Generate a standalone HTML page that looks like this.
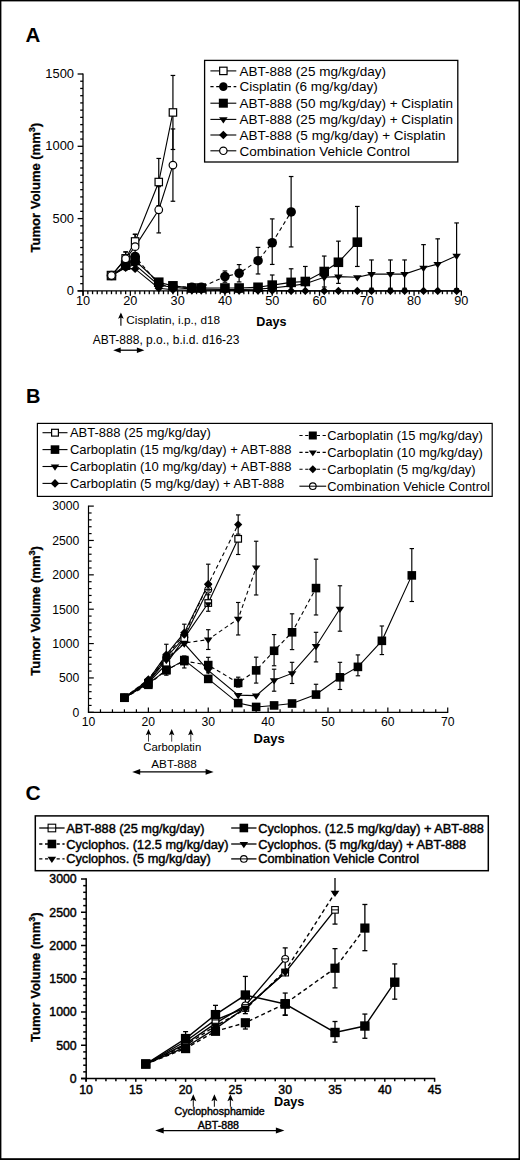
<!DOCTYPE html><html><head><meta charset="utf-8"><title>Figure</title>
<style>html,body{margin:0;padding:0;background:#fff;}svg{display:block;}text{font-family:"Liberation Sans", sans-serif;fill:#000;}</style></head><body>
<svg width="520" height="1160" viewBox="0 0 520 1160">
<rect x="0" y="0" width="520" height="1160" fill="#fff"/>
<rect x="0" y="0" width="1.4" height="1160" fill="#000"/>
<rect x="0" y="0" width="520" height="1.4" fill="#000"/>
<rect x="518.5" y="0" width="1.5" height="1160" fill="#000"/>
<rect x="0" y="1158.2" width="520" height="1.8" fill="#000"/>
<text x="25.6" y="42" font-size="20.5" font-weight="bold" text-anchor="start" >A</text>
<rect x="204.6" y="60.4" width="253.2" height="101.6" fill="#fff" stroke="#000" stroke-width="1.3"/>
<line x1="210.4" y1="70.9" x2="236.3" y2="70.9" stroke="#000" stroke-width="1.1"/>
<rect x="219.65" y="67.2" width="7.4" height="7.4" fill="#fff" stroke="#000" stroke-width="1.2"/>
<text x="239.6" y="75.7" font-size="13.5" font-weight="normal" text-anchor="start" >ABT-888 (25 mg/kg/day)</text>
<line x1="210.4" y1="86.6" x2="236.3" y2="86.6" stroke="#000" stroke-width="1.1" stroke-dasharray="3.2 2.6"/>
<circle cx="223.35" cy="86.6" r="4.3" fill="#000"/>
<text x="239.6" y="91.4" font-size="13.5" font-weight="normal" text-anchor="start" >Cisplatin (6 mg/kg/day)</text>
<line x1="210.4" y1="103.2" x2="236.3" y2="103.2" stroke="#000" stroke-width="1.1"/>
<rect x="218.85" y="98.7" width="9" height="9" fill="#000"/>
<text x="239.6" y="108" font-size="13.5" font-weight="normal" text-anchor="start" >ABT-888 (50 mg/kg/day) + Cisplatin</text>
<line x1="210.4" y1="119.4" x2="236.3" y2="119.4" stroke="#000" stroke-width="1.1"/>
<path d="M219.05 117.34L227.65 117.34L223.35 123.53Z" fill="#000"/>
<text x="239.6" y="124.2" font-size="13.5" font-weight="normal" text-anchor="start" >ABT-888 (25 mg/kg/day) + Cisplatin</text>
<line x1="210.4" y1="135" x2="236.3" y2="135" stroke="#000" stroke-width="1.1"/>
<path d="M223.35 130.7L227.65 135L223.35 139.3L219.05 135Z" fill="#000"/>
<text x="239.6" y="139.8" font-size="13.5" font-weight="normal" text-anchor="start" >ABT-888 (5 mg/kg/day) + Cisplatin</text>
<line x1="210.4" y1="150.8" x2="236.3" y2="150.8" stroke="#000" stroke-width="1.1"/>
<circle cx="223.35" cy="150.8" r="3.7" fill="#fff" stroke="#000" stroke-width="1.2"/>
<text x="239.6" y="155.6" font-size="13.5" font-weight="normal" text-anchor="start" >Combination Vehicle Control</text>
<g stroke="#000" stroke-width="1.3">
<line x1="83" y1="73.4" x2="83" y2="295.8"/>
<line x1="77.6" y1="290.9" x2="461.6" y2="290.9"/>
<line x1="77.6" y1="290.9" x2="83" y2="290.9"/>
<line x1="80.2" y1="283.67" x2="83" y2="283.67"/>
<line x1="80.2" y1="276.44" x2="83" y2="276.44"/>
<line x1="80.2" y1="269.21" x2="83" y2="269.21"/>
<line x1="80.2" y1="261.98" x2="83" y2="261.98"/>
<line x1="80.2" y1="254.75" x2="83" y2="254.75"/>
<line x1="80.2" y1="247.52" x2="83" y2="247.52"/>
<line x1="80.2" y1="240.29" x2="83" y2="240.29"/>
<line x1="80.2" y1="233.06" x2="83" y2="233.06"/>
<line x1="80.2" y1="225.83" x2="83" y2="225.83"/>
<line x1="77.6" y1="218.6" x2="83" y2="218.6"/>
<line x1="80.2" y1="211.37" x2="83" y2="211.37"/>
<line x1="80.2" y1="204.14" x2="83" y2="204.14"/>
<line x1="80.2" y1="196.91" x2="83" y2="196.91"/>
<line x1="80.2" y1="189.68" x2="83" y2="189.68"/>
<line x1="80.2" y1="182.45" x2="83" y2="182.45"/>
<line x1="80.2" y1="175.22" x2="83" y2="175.22"/>
<line x1="80.2" y1="167.99" x2="83" y2="167.99"/>
<line x1="80.2" y1="160.76" x2="83" y2="160.76"/>
<line x1="80.2" y1="153.53" x2="83" y2="153.53"/>
<line x1="77.6" y1="146.3" x2="83" y2="146.3"/>
<line x1="80.2" y1="139.07" x2="83" y2="139.07"/>
<line x1="80.2" y1="131.84" x2="83" y2="131.84"/>
<line x1="80.2" y1="124.61" x2="83" y2="124.61"/>
<line x1="80.2" y1="117.38" x2="83" y2="117.38"/>
<line x1="80.2" y1="110.15" x2="83" y2="110.15"/>
<line x1="80.2" y1="102.92" x2="83" y2="102.92"/>
<line x1="80.2" y1="95.69" x2="83" y2="95.69"/>
<line x1="80.2" y1="88.46" x2="83" y2="88.46"/>
<line x1="80.2" y1="81.23" x2="83" y2="81.23"/>
<line x1="77.6" y1="74" x2="83" y2="74"/>
<line x1="83.1" y1="290.9" x2="83.1" y2="295.8"/>
<line x1="87.83" y1="290.9" x2="87.83" y2="294.2"/>
<line x1="92.56" y1="290.9" x2="92.56" y2="294.2"/>
<line x1="97.28" y1="290.9" x2="97.28" y2="294.2"/>
<line x1="102.01" y1="290.9" x2="102.01" y2="294.2"/>
<line x1="106.74" y1="290.9" x2="106.74" y2="294.2"/>
<line x1="111.47" y1="290.9" x2="111.47" y2="294.2"/>
<line x1="116.2" y1="290.9" x2="116.2" y2="294.2"/>
<line x1="120.92" y1="290.9" x2="120.92" y2="294.2"/>
<line x1="125.65" y1="290.9" x2="125.65" y2="294.2"/>
<line x1="130.38" y1="290.9" x2="130.38" y2="295.8"/>
<line x1="135.11" y1="290.9" x2="135.11" y2="294.2"/>
<line x1="139.84" y1="290.9" x2="139.84" y2="294.2"/>
<line x1="144.56" y1="290.9" x2="144.56" y2="294.2"/>
<line x1="149.29" y1="290.9" x2="149.29" y2="294.2"/>
<line x1="154.02" y1="290.9" x2="154.02" y2="294.2"/>
<line x1="158.75" y1="290.9" x2="158.75" y2="294.2"/>
<line x1="163.48" y1="290.9" x2="163.48" y2="294.2"/>
<line x1="168.2" y1="290.9" x2="168.2" y2="294.2"/>
<line x1="172.93" y1="290.9" x2="172.93" y2="294.2"/>
<line x1="177.66" y1="290.9" x2="177.66" y2="295.8"/>
<line x1="182.39" y1="290.9" x2="182.39" y2="294.2"/>
<line x1="187.12" y1="290.9" x2="187.12" y2="294.2"/>
<line x1="191.84" y1="290.9" x2="191.84" y2="294.2"/>
<line x1="196.57" y1="290.9" x2="196.57" y2="294.2"/>
<line x1="201.3" y1="290.9" x2="201.3" y2="294.2"/>
<line x1="206.03" y1="290.9" x2="206.03" y2="294.2"/>
<line x1="210.76" y1="290.9" x2="210.76" y2="294.2"/>
<line x1="215.48" y1="290.9" x2="215.48" y2="294.2"/>
<line x1="220.21" y1="290.9" x2="220.21" y2="294.2"/>
<line x1="224.94" y1="290.9" x2="224.94" y2="295.8"/>
<line x1="229.67" y1="290.9" x2="229.67" y2="294.2"/>
<line x1="234.4" y1="290.9" x2="234.4" y2="294.2"/>
<line x1="239.12" y1="290.9" x2="239.12" y2="294.2"/>
<line x1="243.85" y1="290.9" x2="243.85" y2="294.2"/>
<line x1="248.58" y1="290.9" x2="248.58" y2="294.2"/>
<line x1="253.31" y1="290.9" x2="253.31" y2="294.2"/>
<line x1="258.04" y1="290.9" x2="258.04" y2="294.2"/>
<line x1="262.76" y1="290.9" x2="262.76" y2="294.2"/>
<line x1="267.49" y1="290.9" x2="267.49" y2="294.2"/>
<line x1="272.22" y1="290.9" x2="272.22" y2="295.8"/>
<line x1="276.95" y1="290.9" x2="276.95" y2="294.2"/>
<line x1="281.68" y1="290.9" x2="281.68" y2="294.2"/>
<line x1="286.4" y1="290.9" x2="286.4" y2="294.2"/>
<line x1="291.13" y1="290.9" x2="291.13" y2="294.2"/>
<line x1="295.86" y1="290.9" x2="295.86" y2="294.2"/>
<line x1="300.59" y1="290.9" x2="300.59" y2="294.2"/>
<line x1="305.32" y1="290.9" x2="305.32" y2="294.2"/>
<line x1="310.04" y1="290.9" x2="310.04" y2="294.2"/>
<line x1="314.77" y1="290.9" x2="314.77" y2="294.2"/>
<line x1="319.5" y1="290.9" x2="319.5" y2="295.8"/>
<line x1="324.23" y1="290.9" x2="324.23" y2="294.2"/>
<line x1="328.96" y1="290.9" x2="328.96" y2="294.2"/>
<line x1="333.68" y1="290.9" x2="333.68" y2="294.2"/>
<line x1="338.41" y1="290.9" x2="338.41" y2="294.2"/>
<line x1="343.14" y1="290.9" x2="343.14" y2="294.2"/>
<line x1="347.87" y1="290.9" x2="347.87" y2="294.2"/>
<line x1="352.6" y1="290.9" x2="352.6" y2="294.2"/>
<line x1="357.32" y1="290.9" x2="357.32" y2="294.2"/>
<line x1="362.05" y1="290.9" x2="362.05" y2="294.2"/>
<line x1="366.78" y1="290.9" x2="366.78" y2="295.8"/>
<line x1="371.51" y1="290.9" x2="371.51" y2="294.2"/>
<line x1="376.24" y1="290.9" x2="376.24" y2="294.2"/>
<line x1="380.96" y1="290.9" x2="380.96" y2="294.2"/>
<line x1="385.69" y1="290.9" x2="385.69" y2="294.2"/>
<line x1="390.42" y1="290.9" x2="390.42" y2="294.2"/>
<line x1="395.15" y1="290.9" x2="395.15" y2="294.2"/>
<line x1="399.88" y1="290.9" x2="399.88" y2="294.2"/>
<line x1="404.6" y1="290.9" x2="404.6" y2="294.2"/>
<line x1="409.33" y1="290.9" x2="409.33" y2="294.2"/>
<line x1="414.06" y1="290.9" x2="414.06" y2="295.8"/>
<line x1="418.79" y1="290.9" x2="418.79" y2="294.2"/>
<line x1="423.52" y1="290.9" x2="423.52" y2="294.2"/>
<line x1="428.24" y1="290.9" x2="428.24" y2="294.2"/>
<line x1="432.97" y1="290.9" x2="432.97" y2="294.2"/>
<line x1="437.7" y1="290.9" x2="437.7" y2="294.2"/>
<line x1="442.43" y1="290.9" x2="442.43" y2="294.2"/>
<line x1="447.16" y1="290.9" x2="447.16" y2="294.2"/>
<line x1="451.88" y1="290.9" x2="451.88" y2="294.2"/>
<line x1="456.61" y1="290.9" x2="456.61" y2="294.2"/>
<line x1="461.34" y1="290.9" x2="461.34" y2="295.8"/>
</g>
<text x="74" y="294.8" font-size="12.9" font-weight="normal" text-anchor="end" >0</text>
<text x="74" y="222.5" font-size="12.9" font-weight="normal" text-anchor="end" >500</text>
<text x="74" y="150.2" font-size="12.9" font-weight="normal" text-anchor="end" >1000</text>
<text x="74" y="77.9" font-size="12.9" font-weight="normal" text-anchor="end" >1500</text>
<text x="83.1" y="305.1" font-size="12.7" font-weight="normal" text-anchor="middle" >10</text>
<text x="130.38" y="305.1" font-size="12.7" font-weight="normal" text-anchor="middle" >20</text>
<text x="177.66" y="305.1" font-size="12.7" font-weight="normal" text-anchor="middle" >30</text>
<text x="224.94" y="305.1" font-size="12.7" font-weight="normal" text-anchor="middle" >40</text>
<text x="272.22" y="305.1" font-size="12.7" font-weight="normal" text-anchor="middle" >50</text>
<text x="319.5" y="305.1" font-size="12.7" font-weight="normal" text-anchor="middle" >60</text>
<text x="366.78" y="305.1" font-size="12.7" font-weight="normal" text-anchor="middle" >70</text>
<text x="414.06" y="305.1" font-size="12.7" font-weight="normal" text-anchor="middle" >80</text>
<text x="461.34" y="305.1" font-size="12.7" font-weight="normal" text-anchor="middle" >90</text>
<text x="256.3" y="326.3" font-size="12.6" font-weight="bold" text-anchor="start" >Days</text>
<text transform="translate(39.6 252.4) rotate(-90)" font-size="13" font-weight="bold" stroke="#000" stroke-width="0.3" >Tumor Volume (mm<tspan font-size="9.1" dy="-4.94">3</tspan><tspan dy="4.94">)</tspan></text>
<line x1="120.9" y1="314.6" x2="120.9" y2="325.8" stroke="#000" stroke-width="1.1"/>
<path d="M120.9 312.6L123.7 318.8L120.9 317.56L118.1 318.8Z" fill="#000"/>
<text x="126.3" y="323.7" font-size="11.8" font-weight="normal" text-anchor="start" >Cisplatin, i.p., d18</text>
<text x="92.7" y="343.5" font-size="12" font-weight="normal" text-anchor="start" >ABT-888, p.o., b.i.d. d16-23</text>
<line x1="116.2" y1="350.2" x2="141.4" y2="350.2" stroke="#000" stroke-width="1.3"/>
<path d="M113.2 350.2L120.7 347.4L120.7 353Z" fill="#000"/>
<path d="M144.4 350.2L136.9 347.4L136.9 353Z" fill="#000"/>
<path d="M111.47 275.57L125.65 267.76L135.11 268.92L158.75 288.3L172.93 289.74L191.84 290.18L201.3 290.18L224.94 290.47L239.12 290.47L258.04 290.47L272.22 290.61L291.13 290.9L305.32 290.9L324.23 290.9L338.41 290.9L357.32 290.9L371.51 290.9L390.42 290.9L404.6 290.9L423.52 290.9L437.7 290.9L456.61 290.9" fill="none" stroke="#000" stroke-width="1.1"/>
<path d="M111.47 275.57L125.65 267.04L135.11 264.87L158.75 285.12L172.93 287.28L191.84 289.16L201.3 289.16L224.94 289.45L239.12 289.45L258.04 289.16L272.22 288.01L291.13 285.84L305.32 283.67L324.23 277.31L338.41 276.58L357.32 277.31L371.51 274.13L390.42 274.13L404.6 274.13L423.52 267.76L437.7 264.15L456.61 255.76" fill="none" stroke="#000" stroke-width="1.1"/>
<path d="M111.47 275.57L125.65 265.16L135.11 260.53L158.75 282.22L172.93 285.84L191.84 288.01L201.3 288.01L224.94 288.01L239.12 288.01L258.04 287.28L272.22 285.12L291.13 282.37L305.32 281.5L324.23 271.52L338.41 262.27L357.32 242.17" fill="none" stroke="#000" stroke-width="1.1"/>
<path d="M111.47 275.57L125.65 266.03L135.11 256.49L158.75 284.39L172.93 286.56L191.84 287.28L201.3 287.28L224.94 276.58L239.12 273.26L258.04 260.68L272.22 242.75L291.13 211.95" fill="none" stroke="#000" stroke-width="1.1" stroke-dasharray="4 3"/>
<path d="M111.47 275.57L125.65 258.36L135.11 241.45L158.75 182.02L172.93 112.46" fill="none" stroke="#000" stroke-width="1.1"/>
<path d="M111.47 275.57L125.65 258.8L135.11 246.65L158.75 209.78L172.93 165.1" fill="none" stroke="#000" stroke-width="1.1"/>
<line x1="371.51" y1="259.96" x2="371.51" y2="288.3" stroke="#000" stroke-width="1.2"/>
<line x1="369.21" y1="259.96" x2="373.81" y2="259.96" stroke="#000" stroke-width="1.2"/>
<line x1="369.21" y1="288.3" x2="373.81" y2="288.3" stroke="#000" stroke-width="1.2"/>
<line x1="390.42" y1="259.96" x2="390.42" y2="288.3" stroke="#000" stroke-width="1.2"/>
<line x1="388.12" y1="259.96" x2="392.72" y2="259.96" stroke="#000" stroke-width="1.2"/>
<line x1="388.12" y1="288.3" x2="392.72" y2="288.3" stroke="#000" stroke-width="1.2"/>
<line x1="404.6" y1="259.96" x2="404.6" y2="288.3" stroke="#000" stroke-width="1.2"/>
<line x1="402.3" y1="259.96" x2="406.9" y2="259.96" stroke="#000" stroke-width="1.2"/>
<line x1="402.3" y1="288.3" x2="406.9" y2="288.3" stroke="#000" stroke-width="1.2"/>
<line x1="423.52" y1="244.63" x2="423.52" y2="290.9" stroke="#000" stroke-width="1.2"/>
<line x1="421.22" y1="244.63" x2="425.82" y2="244.63" stroke="#000" stroke-width="1.2"/>
<line x1="437.7" y1="238.84" x2="437.7" y2="289.45" stroke="#000" stroke-width="1.2"/>
<line x1="435.4" y1="238.84" x2="440" y2="238.84" stroke="#000" stroke-width="1.2"/>
<line x1="435.4" y1="289.45" x2="440" y2="289.45" stroke="#000" stroke-width="1.2"/>
<line x1="456.61" y1="222.94" x2="456.61" y2="288.59" stroke="#000" stroke-width="1.2"/>
<line x1="454.31" y1="222.94" x2="458.91" y2="222.94" stroke="#000" stroke-width="1.2"/>
<line x1="454.31" y1="288.59" x2="458.91" y2="288.59" stroke="#000" stroke-width="1.2"/>
<line x1="272.22" y1="274.99" x2="272.22" y2="290.9" stroke="#000" stroke-width="1.2"/>
<line x1="269.92" y1="274.99" x2="274.52" y2="274.99" stroke="#000" stroke-width="1.2"/>
<line x1="291.13" y1="268.78" x2="291.13" y2="290.9" stroke="#000" stroke-width="1.2"/>
<line x1="288.83" y1="268.78" x2="293.43" y2="268.78" stroke="#000" stroke-width="1.2"/>
<line x1="305.32" y1="266.46" x2="305.32" y2="290.9" stroke="#000" stroke-width="1.2"/>
<line x1="303.02" y1="266.46" x2="307.62" y2="266.46" stroke="#000" stroke-width="1.2"/>
<line x1="324.23" y1="256.05" x2="324.23" y2="287" stroke="#000" stroke-width="1.2"/>
<line x1="321.93" y1="256.05" x2="326.53" y2="256.05" stroke="#000" stroke-width="1.2"/>
<line x1="321.93" y1="287" x2="326.53" y2="287" stroke="#000" stroke-width="1.2"/>
<line x1="338.41" y1="241.16" x2="338.41" y2="283.38" stroke="#000" stroke-width="1.2"/>
<line x1="336.11" y1="241.16" x2="340.71" y2="241.16" stroke="#000" stroke-width="1.2"/>
<line x1="336.11" y1="283.38" x2="340.71" y2="283.38" stroke="#000" stroke-width="1.2"/>
<line x1="357.32" y1="206.45" x2="357.32" y2="266.46" stroke="#000" stroke-width="1.2"/>
<line x1="355.02" y1="206.45" x2="359.62" y2="206.45" stroke="#000" stroke-width="1.2"/>
<line x1="355.02" y1="266.46" x2="359.62" y2="266.46" stroke="#000" stroke-width="1.2"/>
<line x1="224.94" y1="270.95" x2="224.94" y2="282.22" stroke="#000" stroke-width="1.2"/>
<line x1="222.64" y1="270.95" x2="227.24" y2="270.95" stroke="#000" stroke-width="1.2"/>
<line x1="222.64" y1="282.22" x2="227.24" y2="282.22" stroke="#000" stroke-width="1.2"/>
<line x1="239.12" y1="264.58" x2="239.12" y2="281.93" stroke="#000" stroke-width="1.2"/>
<line x1="236.82" y1="264.58" x2="241.42" y2="264.58" stroke="#000" stroke-width="1.2"/>
<line x1="236.82" y1="281.93" x2="241.42" y2="281.93" stroke="#000" stroke-width="1.2"/>
<line x1="258.04" y1="247.38" x2="258.04" y2="273.98" stroke="#000" stroke-width="1.2"/>
<line x1="255.74" y1="247.38" x2="260.34" y2="247.38" stroke="#000" stroke-width="1.2"/>
<line x1="255.74" y1="273.98" x2="260.34" y2="273.98" stroke="#000" stroke-width="1.2"/>
<line x1="272.22" y1="218.89" x2="272.22" y2="264.44" stroke="#000" stroke-width="1.2"/>
<line x1="269.92" y1="218.89" x2="274.52" y2="218.89" stroke="#000" stroke-width="1.2"/>
<line x1="269.92" y1="264.44" x2="274.52" y2="264.44" stroke="#000" stroke-width="1.2"/>
<line x1="291.13" y1="176.52" x2="291.13" y2="246.94" stroke="#000" stroke-width="1.2"/>
<line x1="288.83" y1="176.52" x2="293.43" y2="176.52" stroke="#000" stroke-width="1.2"/>
<line x1="288.83" y1="246.94" x2="293.43" y2="246.94" stroke="#000" stroke-width="1.2"/>
<line x1="125.65" y1="251.86" x2="125.65" y2="264.87" stroke="#000" stroke-width="1.2"/>
<line x1="123.35" y1="251.86" x2="127.95" y2="251.86" stroke="#000" stroke-width="1.2"/>
<line x1="123.35" y1="264.87" x2="127.95" y2="264.87" stroke="#000" stroke-width="1.2"/>
<line x1="135.11" y1="234.22" x2="135.11" y2="248.68" stroke="#000" stroke-width="1.2"/>
<line x1="132.81" y1="234.22" x2="137.41" y2="234.22" stroke="#000" stroke-width="1.2"/>
<line x1="132.81" y1="248.68" x2="137.41" y2="248.68" stroke="#000" stroke-width="1.2"/>
<line x1="158.75" y1="158.45" x2="158.75" y2="205.59" stroke="#000" stroke-width="1.2"/>
<line x1="156.45" y1="158.45" x2="161.05" y2="158.45" stroke="#000" stroke-width="1.2"/>
<line x1="156.45" y1="205.59" x2="161.05" y2="205.59" stroke="#000" stroke-width="1.2"/>
<line x1="172.93" y1="75.45" x2="172.93" y2="149.48" stroke="#000" stroke-width="1.2"/>
<line x1="170.63" y1="75.45" x2="175.23" y2="75.45" stroke="#000" stroke-width="1.2"/>
<line x1="170.63" y1="149.48" x2="175.23" y2="149.48" stroke="#000" stroke-width="1.2"/>
<line x1="125.65" y1="252" x2="125.65" y2="265.59" stroke="#000" stroke-width="1.2"/>
<line x1="123.35" y1="252" x2="127.95" y2="252" stroke="#000" stroke-width="1.2"/>
<line x1="123.35" y1="265.59" x2="127.95" y2="265.59" stroke="#000" stroke-width="1.2"/>
<line x1="135.11" y1="234.36" x2="135.11" y2="258.94" stroke="#000" stroke-width="1.2"/>
<line x1="132.81" y1="234.36" x2="137.41" y2="234.36" stroke="#000" stroke-width="1.2"/>
<line x1="132.81" y1="258.94" x2="137.41" y2="258.94" stroke="#000" stroke-width="1.2"/>
<line x1="158.75" y1="186.64" x2="158.75" y2="232.92" stroke="#000" stroke-width="1.2"/>
<line x1="156.45" y1="186.64" x2="161.05" y2="186.64" stroke="#000" stroke-width="1.2"/>
<line x1="156.45" y1="232.92" x2="161.05" y2="232.92" stroke="#000" stroke-width="1.2"/>
<line x1="172.93" y1="128.95" x2="172.93" y2="201.25" stroke="#000" stroke-width="1.2"/>
<line x1="170.63" y1="128.95" x2="175.23" y2="128.95" stroke="#000" stroke-width="1.2"/>
<line x1="170.63" y1="201.25" x2="175.23" y2="201.25" stroke="#000" stroke-width="1.2"/>
<path d="M111.47 271.37L115.67 275.57L111.47 279.77L107.27 275.57Z" fill="#000"/>
<path d="M125.65 263.56L129.85 267.76L125.65 271.96L121.45 267.76Z" fill="#000"/>
<path d="M135.11 264.72L139.31 268.92L135.11 273.12L130.91 268.92Z" fill="#000"/>
<path d="M158.75 284.1L162.95 288.3L158.75 292.5L154.55 288.3Z" fill="#000"/>
<path d="M172.93 285.54L177.13 289.74L172.93 293.94L168.73 289.74Z" fill="#000"/>
<path d="M191.84 285.98L196.04 290.18L191.84 294.38L187.64 290.18Z" fill="#000"/>
<path d="M201.3 285.98L205.5 290.18L201.3 294.38L197.1 290.18Z" fill="#000"/>
<path d="M224.94 286.27L229.14 290.47L224.94 294.67L220.74 290.47Z" fill="#000"/>
<path d="M239.12 286.27L243.32 290.47L239.12 294.67L234.92 290.47Z" fill="#000"/>
<path d="M258.04 286.27L262.24 290.47L258.04 294.67L253.84 290.47Z" fill="#000"/>
<path d="M272.22 286.41L276.42 290.61L272.22 294.81L268.02 290.61Z" fill="#000"/>
<path d="M291.13 286.7L295.33 290.9L291.13 295.1L286.93 290.9Z" fill="#000"/>
<path d="M305.32 286.7L309.52 290.9L305.32 295.1L301.12 290.9Z" fill="#000"/>
<path d="M324.23 286.7L328.43 290.9L324.23 295.1L320.03 290.9Z" fill="#000"/>
<path d="M338.41 286.7L342.61 290.9L338.41 295.1L334.21 290.9Z" fill="#000"/>
<path d="M357.32 286.7L361.52 290.9L357.32 295.1L353.12 290.9Z" fill="#000"/>
<path d="M371.51 286.7L375.71 290.9L371.51 295.1L367.31 290.9Z" fill="#000"/>
<path d="M390.42 286.7L394.62 290.9L390.42 295.1L386.22 290.9Z" fill="#000"/>
<path d="M404.6 286.7L408.8 290.9L404.6 295.1L400.4 290.9Z" fill="#000"/>
<path d="M423.52 286.7L427.72 290.9L423.52 295.1L419.32 290.9Z" fill="#000"/>
<path d="M437.7 286.7L441.9 290.9L437.7 295.1L433.5 290.9Z" fill="#000"/>
<path d="M456.61 286.7L460.81 290.9L456.61 295.1L452.41 290.9Z" fill="#000"/>
<path d="M107.17 273.51L115.77 273.51L111.47 279.7Z" fill="#000"/>
<path d="M121.35 264.98L129.95 264.98L125.65 271.17Z" fill="#000"/>
<path d="M130.81 262.81L139.41 262.81L135.11 269Z" fill="#000"/>
<path d="M154.45 283.05L163.05 283.05L158.75 289.24Z" fill="#000"/>
<path d="M168.63 285.22L177.23 285.22L172.93 291.41Z" fill="#000"/>
<path d="M187.54 287.1L196.14 287.1L191.84 293.29Z" fill="#000"/>
<path d="M197 287.1L205.6 287.1L201.3 293.29Z" fill="#000"/>
<path d="M220.64 287.39L229.24 287.39L224.94 293.58Z" fill="#000"/>
<path d="M234.82 287.39L243.42 287.39L239.12 293.58Z" fill="#000"/>
<path d="M253.74 287.1L262.34 287.1L258.04 293.29Z" fill="#000"/>
<path d="M267.92 285.94L276.52 285.94L272.22 292.14Z" fill="#000"/>
<path d="M286.83 283.77L295.43 283.77L291.13 289.97Z" fill="#000"/>
<path d="M301.02 281.61L309.62 281.61L305.32 287.8Z" fill="#000"/>
<path d="M319.93 275.24L328.53 275.24L324.23 281.44Z" fill="#000"/>
<path d="M334.11 274.52L342.71 274.52L338.41 280.71Z" fill="#000"/>
<path d="M353.02 275.24L361.62 275.24L357.32 281.44Z" fill="#000"/>
<path d="M367.21 272.06L375.81 272.06L371.51 278.25Z" fill="#000"/>
<path d="M386.12 272.06L394.72 272.06L390.42 278.25Z" fill="#000"/>
<path d="M400.3 272.06L408.9 272.06L404.6 278.25Z" fill="#000"/>
<path d="M419.22 265.7L427.82 265.7L423.52 271.89Z" fill="#000"/>
<path d="M433.4 262.08L442 262.08L437.7 268.28Z" fill="#000"/>
<path d="M452.31 253.7L460.91 253.7L456.61 259.89Z" fill="#000"/>
<rect x="106.67" y="270.77" width="9.6" height="9.6" fill="#000"/>
<rect x="120.85" y="260.36" width="9.6" height="9.6" fill="#000"/>
<rect x="130.31" y="255.73" width="9.6" height="9.6" fill="#000"/>
<rect x="153.95" y="277.42" width="9.6" height="9.6" fill="#000"/>
<rect x="168.13" y="281.04" width="9.6" height="9.6" fill="#000"/>
<rect x="187.04" y="283.21" width="9.6" height="9.6" fill="#000"/>
<rect x="196.5" y="283.21" width="9.6" height="9.6" fill="#000"/>
<rect x="220.14" y="283.21" width="9.6" height="9.6" fill="#000"/>
<rect x="234.32" y="283.21" width="9.6" height="9.6" fill="#000"/>
<rect x="253.24" y="282.48" width="9.6" height="9.6" fill="#000"/>
<rect x="267.42" y="280.32" width="9.6" height="9.6" fill="#000"/>
<rect x="286.33" y="277.57" width="9.6" height="9.6" fill="#000"/>
<rect x="300.52" y="276.7" width="9.6" height="9.6" fill="#000"/>
<rect x="319.43" y="266.72" width="9.6" height="9.6" fill="#000"/>
<rect x="333.61" y="257.47" width="9.6" height="9.6" fill="#000"/>
<rect x="352.52" y="237.37" width="9.6" height="9.6" fill="#000"/>
<circle cx="111.47" cy="275.57" r="4.8" fill="#000"/>
<circle cx="125.65" cy="266.03" r="4.8" fill="#000"/>
<circle cx="135.11" cy="256.49" r="4.8" fill="#000"/>
<circle cx="158.75" cy="284.39" r="4.8" fill="#000"/>
<circle cx="172.93" cy="286.56" r="4.8" fill="#000"/>
<circle cx="191.84" cy="287.28" r="4.8" fill="#000"/>
<circle cx="201.3" cy="287.28" r="4.8" fill="#000"/>
<circle cx="224.94" cy="276.58" r="4.8" fill="#000"/>
<circle cx="239.12" cy="273.26" r="4.8" fill="#000"/>
<circle cx="258.04" cy="260.68" r="4.8" fill="#000"/>
<circle cx="272.22" cy="242.75" r="4.8" fill="#000"/>
<circle cx="291.13" cy="211.95" r="4.8" fill="#000"/>
<rect x="107.77" y="271.87" width="7.4" height="7.4" fill="#fff" stroke="#000" stroke-width="1.2"/>
<rect x="121.95" y="254.66" width="7.4" height="7.4" fill="#fff" stroke="#000" stroke-width="1.2"/>
<rect x="131.41" y="237.75" width="7.4" height="7.4" fill="#fff" stroke="#000" stroke-width="1.2"/>
<rect x="155.05" y="178.32" width="7.4" height="7.4" fill="#fff" stroke="#000" stroke-width="1.2"/>
<rect x="169.23" y="108.76" width="7.4" height="7.4" fill="#fff" stroke="#000" stroke-width="1.2"/>
<circle cx="111.47" cy="275.57" r="3.8" fill="#fff" stroke="#000" stroke-width="1.2"/>
<circle cx="125.65" cy="258.8" r="3.8" fill="#fff" stroke="#000" stroke-width="1.2"/>
<circle cx="135.11" cy="246.65" r="3.8" fill="#fff" stroke="#000" stroke-width="1.2"/>
<circle cx="158.75" cy="209.78" r="3.8" fill="#fff" stroke="#000" stroke-width="1.2"/>
<circle cx="172.93" cy="165.1" r="3.8" fill="#fff" stroke="#000" stroke-width="1.2"/>
<text x="26" y="402.6" font-size="20" font-weight="bold" text-anchor="start" >B</text>
<rect x="37.4" y="423.4" width="454.8" height="73" fill="#fff" stroke="#000" stroke-width="1.2"/>
<line x1="42.5" y1="432.7" x2="67.5" y2="432.7" stroke="#000" stroke-width="1.1"/>
<rect x="51.6" y="429.3" width="6.8" height="6.8" fill="#fff" stroke="#000" stroke-width="1.2"/>
<text x="69.9" y="437.3" font-size="13.0" font-weight="normal" text-anchor="start" >ABT-888 (25 mg/kg/day)</text>
<line x1="42.5" y1="449.6" x2="67.5" y2="449.6" stroke="#000" stroke-width="1.1"/>
<rect x="50.7" y="445.3" width="8.6" height="8.6" fill="#000"/>
<text x="69.9" y="454.2" font-size="13.0" font-weight="normal" text-anchor="start" >Carboplatin (15 mg/kg/day) + ABT-888</text>
<line x1="42.5" y1="466.5" x2="67.5" y2="466.5" stroke="#000" stroke-width="1.1"/>
<path d="M50.7 464.44L59.3 464.44L55 470.63Z" fill="#000"/>
<text x="69.9" y="471.1" font-size="13.0" font-weight="normal" text-anchor="start" >Carboplatin (10 mg/kg/day) + ABT-888</text>
<line x1="42.5" y1="483.4" x2="67.5" y2="483.4" stroke="#000" stroke-width="1.1"/>
<path d="M55 479.1L59.3 483.4L55 487.7L50.7 483.4Z" fill="#000"/>
<text x="69.9" y="488" font-size="13.0" font-weight="normal" text-anchor="start" >Carboplatin (5 mg/kg/day) + ABT-888</text>
<line x1="299.4" y1="435.5" x2="326.2" y2="435.5" stroke="#000" stroke-width="1.1" stroke-dasharray="3.2 2.6"/>
<rect x="308.8" y="431.5" width="8" height="8" fill="#000"/>
<text x="327.3" y="440.1" font-size="12.9" font-weight="normal" text-anchor="start" >Carboplatin (15 mg/kg/day)</text>
<line x1="299.4" y1="452.4" x2="326.2" y2="452.4" stroke="#000" stroke-width="1.1" stroke-dasharray="3.2 2.6"/>
<path d="M308.8 450.48L316.8 450.48L312.8 456.24Z" fill="#000"/>
<text x="327.3" y="457" font-size="12.9" font-weight="normal" text-anchor="start" >Carboplatin (10 mg/kg/day)</text>
<line x1="299.4" y1="469.3" x2="326.2" y2="469.3" stroke="#000" stroke-width="1.1" stroke-dasharray="3.2 2.6"/>
<path d="M312.8 465.3L316.8 469.3L312.8 473.3L308.8 469.3Z" fill="#000"/>
<text x="327.3" y="473.9" font-size="12.9" font-weight="normal" text-anchor="start" >Carboplatin (5 mg/kg/day)</text>
<line x1="299.4" y1="486.2" x2="326.2" y2="486.2" stroke="#000" stroke-width="1.1"/>
<circle cx="312.8" cy="486.2" r="3.3" fill="#fff" stroke="#000" stroke-width="1.1"/>
<line x1="309" y1="486.2" x2="316.6" y2="486.2" stroke="#000" stroke-width="1"/>
<text x="327.3" y="490.8" font-size="12.9" font-weight="normal" text-anchor="start" >Combination Vehicle Control</text>
<g stroke="#000" stroke-width="1.2">
<line x1="88.5" y1="505.6" x2="88.5" y2="712.9"/>
<line x1="87.9" y1="712.3" x2="448.3" y2="712.3"/>
<line x1="88.5" y1="712.3" x2="93.8" y2="712.3"/>
<line x1="88.5" y1="705.43" x2="91.6" y2="705.43"/>
<line x1="88.5" y1="698.55" x2="91.6" y2="698.55"/>
<line x1="88.5" y1="691.68" x2="91.6" y2="691.68"/>
<line x1="88.5" y1="684.81" x2="91.6" y2="684.81"/>
<line x1="88.5" y1="677.93" x2="93.8" y2="677.93"/>
<line x1="88.5" y1="671.06" x2="91.6" y2="671.06"/>
<line x1="88.5" y1="664.19" x2="91.6" y2="664.19"/>
<line x1="88.5" y1="657.32" x2="91.6" y2="657.32"/>
<line x1="88.5" y1="650.44" x2="91.6" y2="650.44"/>
<line x1="88.5" y1="643.57" x2="93.8" y2="643.57"/>
<line x1="88.5" y1="636.7" x2="91.6" y2="636.7"/>
<line x1="88.5" y1="629.82" x2="91.6" y2="629.82"/>
<line x1="88.5" y1="622.95" x2="91.6" y2="622.95"/>
<line x1="88.5" y1="616.08" x2="91.6" y2="616.08"/>
<line x1="88.5" y1="609.2" x2="93.8" y2="609.2"/>
<line x1="88.5" y1="602.33" x2="91.6" y2="602.33"/>
<line x1="88.5" y1="595.46" x2="91.6" y2="595.46"/>
<line x1="88.5" y1="588.59" x2="91.6" y2="588.59"/>
<line x1="88.5" y1="581.71" x2="91.6" y2="581.71"/>
<line x1="88.5" y1="574.84" x2="93.8" y2="574.84"/>
<line x1="88.5" y1="567.97" x2="91.6" y2="567.97"/>
<line x1="88.5" y1="561.09" x2="91.6" y2="561.09"/>
<line x1="88.5" y1="554.22" x2="91.6" y2="554.22"/>
<line x1="88.5" y1="547.35" x2="91.6" y2="547.35"/>
<line x1="88.5" y1="540.47" x2="93.8" y2="540.47"/>
<line x1="88.5" y1="533.6" x2="91.6" y2="533.6"/>
<line x1="88.5" y1="526.73" x2="91.6" y2="526.73"/>
<line x1="88.5" y1="519.86" x2="91.6" y2="519.86"/>
<line x1="88.5" y1="512.98" x2="91.6" y2="512.98"/>
<line x1="88.5" y1="506.11" x2="93.8" y2="506.11"/>
<line x1="88.5" y1="712.3" x2="88.5" y2="707.4"/>
<line x1="100.47" y1="712.3" x2="100.47" y2="709.3"/>
<line x1="112.45" y1="712.3" x2="112.45" y2="709.3"/>
<line x1="124.42" y1="712.3" x2="124.42" y2="709.3"/>
<line x1="136.4" y1="712.3" x2="136.4" y2="709.3"/>
<line x1="148.37" y1="712.3" x2="148.37" y2="707.4"/>
<line x1="160.34" y1="712.3" x2="160.34" y2="709.3"/>
<line x1="172.32" y1="712.3" x2="172.32" y2="709.3"/>
<line x1="184.29" y1="712.3" x2="184.29" y2="709.3"/>
<line x1="196.27" y1="712.3" x2="196.27" y2="709.3"/>
<line x1="208.24" y1="712.3" x2="208.24" y2="707.4"/>
<line x1="220.21" y1="712.3" x2="220.21" y2="709.3"/>
<line x1="232.19" y1="712.3" x2="232.19" y2="709.3"/>
<line x1="244.16" y1="712.3" x2="244.16" y2="709.3"/>
<line x1="256.14" y1="712.3" x2="256.14" y2="709.3"/>
<line x1="268.11" y1="712.3" x2="268.11" y2="707.4"/>
<line x1="280.08" y1="712.3" x2="280.08" y2="709.3"/>
<line x1="292.06" y1="712.3" x2="292.06" y2="709.3"/>
<line x1="304.03" y1="712.3" x2="304.03" y2="709.3"/>
<line x1="316.01" y1="712.3" x2="316.01" y2="709.3"/>
<line x1="327.98" y1="712.3" x2="327.98" y2="707.4"/>
<line x1="339.95" y1="712.3" x2="339.95" y2="709.3"/>
<line x1="351.93" y1="712.3" x2="351.93" y2="709.3"/>
<line x1="363.9" y1="712.3" x2="363.9" y2="709.3"/>
<line x1="375.88" y1="712.3" x2="375.88" y2="709.3"/>
<line x1="387.85" y1="712.3" x2="387.85" y2="707.4"/>
<line x1="399.82" y1="712.3" x2="399.82" y2="709.3"/>
<line x1="411.8" y1="712.3" x2="411.8" y2="709.3"/>
<line x1="423.77" y1="712.3" x2="423.77" y2="709.3"/>
<line x1="435.75" y1="712.3" x2="435.75" y2="709.3"/>
<line x1="447.72" y1="712.3" x2="447.72" y2="707.4"/>
</g>
<text x="79.4" y="716.6" font-size="12.2" font-weight="normal" text-anchor="end" >0</text>
<text x="79.4" y="682.23" font-size="12.2" font-weight="normal" text-anchor="end" >500</text>
<text x="79.4" y="647.87" font-size="12.2" font-weight="normal" text-anchor="end" >1000</text>
<text x="79.4" y="613.5" font-size="12.2" font-weight="normal" text-anchor="end" >1500</text>
<text x="79.4" y="579.14" font-size="12.2" font-weight="normal" text-anchor="end" >2000</text>
<text x="79.4" y="544.77" font-size="12.2" font-weight="normal" text-anchor="end" >2500</text>
<text x="79.4" y="510.41" font-size="12.2" font-weight="normal" text-anchor="end" >3000</text>
<text x="88.5" y="726.3" font-size="12.2" font-weight="normal" text-anchor="middle" >10</text>
<text x="148.37" y="726.3" font-size="12.2" font-weight="normal" text-anchor="middle" >20</text>
<text x="208.24" y="726.3" font-size="12.2" font-weight="normal" text-anchor="middle" >30</text>
<text x="268.11" y="726.3" font-size="12.2" font-weight="normal" text-anchor="middle" >40</text>
<text x="327.98" y="726.3" font-size="12.2" font-weight="normal" text-anchor="middle" >50</text>
<text x="387.85" y="726.3" font-size="12.2" font-weight="normal" text-anchor="middle" >60</text>
<text x="447.72" y="726.3" font-size="12.2" font-weight="normal" text-anchor="middle" >70</text>
<text x="253.6" y="742.7" font-size="13" font-weight="bold" text-anchor="start" >Days</text>
<text transform="translate(39.6 675.7) rotate(-90)" font-size="13" font-weight="bold" stroke="#000" stroke-width="0.3" >Tumor Volume (mm<tspan font-size="9.1" dy="-4.94">3</tspan><tspan dy="4.94">)</tspan></text>
<line x1="148.5" y1="731" x2="148.5" y2="741.6" stroke="#444" stroke-width="1.0"/>
<path d="M148.5 729L151.2 735.2L148.5 733.96L145.8 735.2Z" fill="#000"/>
<line x1="171.7" y1="731" x2="171.7" y2="741.6" stroke="#444" stroke-width="1.0"/>
<path d="M171.7 729L174.4 735.2L171.7 733.96L169 735.2Z" fill="#000"/>
<line x1="190.8" y1="731" x2="190.8" y2="741.6" stroke="#444" stroke-width="1.0"/>
<path d="M190.8 729L193.5 735.2L190.8 733.96L188.1 735.2Z" fill="#000"/>
<text x="143.2" y="750.6" font-size="11.35" font-weight="normal" text-anchor="start" >Carboplatin</text>
<text x="151.3" y="767.9" font-size="11.7" font-weight="normal" text-anchor="start" >ABT-888</text>
<line x1="135.2" y1="771.9" x2="210.6" y2="771.9" stroke="#000" stroke-width="1.3"/>
<path d="M132.2 771.9L140.2 769.1L140.2 774.7Z" fill="#000"/>
<path d="M213.6 771.9L205.6 769.1L205.6 774.7Z" fill="#000"/>
<path d="M124.42 697.73L148.37 683.43L166.33 670.37L184.29 660.07L208.24 678.9L238.18 703.09L256.14 706.94L274.1 705.43L292.06 703.5L316.01 694.57L339.95 677.32L357.92 666.87L381.86 640.82L411.8 575.39" fill="none" stroke="#000" stroke-width="1.1"/>
<path d="M124.42 697.73L148.37 682.06L166.33 660.07L184.29 643.57L208.24 670.31L238.18 695.12L256.14 695.6L274.1 680.34L292.06 673.4L316.01 646.18L339.95 608.79" fill="none" stroke="#000" stroke-width="1.1"/>
<path d="M124.42 697.73L148.37 680L166.33 654.57L184.29 632.71L208.24 584.12" fill="none" stroke="#000" stroke-width="1.1"/>
<path d="M124.42 697.73L148.37 682.75L166.33 664.19L184.29 638.07L208.24 603.02L238.18 538.83" fill="none" stroke="#000" stroke-width="1.1"/>
<path d="M124.42 697.73L148.37 681.37L166.33 657.32L184.29 637.32L208.24 589.62" fill="none" stroke="#000" stroke-width="1.1"/>
<path d="M124.42 697.73L148.37 684.81L166.33 669.69L184.29 661.1L208.24 665.08L238.18 682.88L256.14 670.37L274.1 650.79L292.06 632.3L316.01 588.1" fill="none" stroke="#000" stroke-width="1.1" stroke-dasharray="4 3"/>
<path d="M124.42 697.73L148.37 681.37L166.33 658.69L184.29 643.02L208.24 639.58L238.18 618.83L256.14 567.49" fill="none" stroke="#000" stroke-width="1.1" stroke-dasharray="4 3"/>
<path d="M124.42 697.73L148.37 679.31L166.33 655.94L184.29 634.64L208.24 584.39L238.18 524.53" fill="none" stroke="#000" stroke-width="1.1" stroke-dasharray="4 3"/>
<line x1="124.42" y1="695.67" x2="124.42" y2="699.79" stroke="#000" stroke-width="1.15"/>
<line x1="122.22" y1="695.67" x2="126.62" y2="695.67" stroke="#000" stroke-width="1.15"/>
<line x1="122.22" y1="699.79" x2="126.62" y2="699.79" stroke="#000" stroke-width="1.15"/>
<line x1="148.37" y1="679.31" x2="148.37" y2="687.56" stroke="#000" stroke-width="1.15"/>
<line x1="146.17" y1="679.31" x2="150.57" y2="679.31" stroke="#000" stroke-width="1.15"/>
<line x1="146.17" y1="687.56" x2="150.57" y2="687.56" stroke="#000" stroke-width="1.15"/>
<line x1="166.33" y1="665.56" x2="166.33" y2="675.19" stroke="#000" stroke-width="1.15"/>
<line x1="164.13" y1="665.56" x2="168.53" y2="665.56" stroke="#000" stroke-width="1.15"/>
<line x1="164.13" y1="675.19" x2="168.53" y2="675.19" stroke="#000" stroke-width="1.15"/>
<line x1="184.29" y1="655.94" x2="184.29" y2="667.97" stroke="#000" stroke-width="1.15"/>
<line x1="182.09" y1="655.94" x2="186.49" y2="655.94" stroke="#000" stroke-width="1.15"/>
<line x1="182.09" y1="667.97" x2="186.49" y2="667.97" stroke="#000" stroke-width="1.15"/>
<line x1="316.01" y1="684.26" x2="316.01" y2="694.57" stroke="#000" stroke-width="1.15"/>
<line x1="313.81" y1="684.26" x2="318.21" y2="684.26" stroke="#000" stroke-width="1.15"/>
<line x1="313.81" y1="694.57" x2="318.21" y2="694.57" stroke="#000" stroke-width="1.15"/>
<line x1="339.95" y1="662.33" x2="339.95" y2="689.48" stroke="#000" stroke-width="1.15"/>
<line x1="337.75" y1="662.33" x2="342.15" y2="662.33" stroke="#000" stroke-width="1.15"/>
<line x1="337.75" y1="689.48" x2="342.15" y2="689.48" stroke="#000" stroke-width="1.15"/>
<line x1="357.92" y1="654.91" x2="357.92" y2="675.8" stroke="#000" stroke-width="1.15"/>
<line x1="355.72" y1="654.91" x2="360.12" y2="654.91" stroke="#000" stroke-width="1.15"/>
<line x1="355.72" y1="675.8" x2="360.12" y2="675.8" stroke="#000" stroke-width="1.15"/>
<line x1="381.86" y1="625.98" x2="381.86" y2="654.57" stroke="#000" stroke-width="1.15"/>
<line x1="379.66" y1="625.98" x2="384.06" y2="625.98" stroke="#000" stroke-width="1.15"/>
<line x1="379.66" y1="654.57" x2="384.06" y2="654.57" stroke="#000" stroke-width="1.15"/>
<line x1="411.8" y1="548.59" x2="411.8" y2="601.51" stroke="#000" stroke-width="1.15"/>
<line x1="409.6" y1="548.59" x2="414" y2="548.59" stroke="#000" stroke-width="1.15"/>
<line x1="409.6" y1="601.51" x2="414" y2="601.51" stroke="#000" stroke-width="1.15"/>
<line x1="274.1" y1="669.21" x2="274.1" y2="691.2" stroke="#000" stroke-width="1.15"/>
<line x1="271.9" y1="669.21" x2="276.3" y2="669.21" stroke="#000" stroke-width="1.15"/>
<line x1="271.9" y1="691.2" x2="276.3" y2="691.2" stroke="#000" stroke-width="1.15"/>
<line x1="292.06" y1="662.33" x2="292.06" y2="683.5" stroke="#000" stroke-width="1.15"/>
<line x1="289.86" y1="662.33" x2="294.26" y2="662.33" stroke="#000" stroke-width="1.15"/>
<line x1="289.86" y1="683.5" x2="294.26" y2="683.5" stroke="#000" stroke-width="1.15"/>
<line x1="316.01" y1="632.3" x2="316.01" y2="661.92" stroke="#000" stroke-width="1.15"/>
<line x1="313.81" y1="632.3" x2="318.21" y2="632.3" stroke="#000" stroke-width="1.15"/>
<line x1="313.81" y1="661.92" x2="318.21" y2="661.92" stroke="#000" stroke-width="1.15"/>
<line x1="339.95" y1="585.77" x2="339.95" y2="631.2" stroke="#000" stroke-width="1.15"/>
<line x1="337.75" y1="585.77" x2="342.15" y2="585.77" stroke="#000" stroke-width="1.15"/>
<line x1="337.75" y1="631.2" x2="342.15" y2="631.2" stroke="#000" stroke-width="1.15"/>
<line x1="166.33" y1="644.26" x2="166.33" y2="664.88" stroke="#000" stroke-width="1.15"/>
<line x1="164.13" y1="644.26" x2="168.53" y2="644.26" stroke="#000" stroke-width="1.15"/>
<line x1="164.13" y1="664.88" x2="168.53" y2="664.88" stroke="#000" stroke-width="1.15"/>
<line x1="184.29" y1="624.19" x2="184.29" y2="641.23" stroke="#000" stroke-width="1.15"/>
<line x1="182.09" y1="624.19" x2="186.49" y2="624.19" stroke="#000" stroke-width="1.15"/>
<line x1="182.09" y1="641.23" x2="186.49" y2="641.23" stroke="#000" stroke-width="1.15"/>
<line x1="208.24" y1="564.19" x2="208.24" y2="604.05" stroke="#000" stroke-width="1.15"/>
<line x1="206.04" y1="564.19" x2="210.44" y2="564.19" stroke="#000" stroke-width="1.15"/>
<line x1="206.04" y1="604.05" x2="210.44" y2="604.05" stroke="#000" stroke-width="1.15"/>
<line x1="208.24" y1="594.77" x2="208.24" y2="611.27" stroke="#000" stroke-width="1.15"/>
<line x1="206.04" y1="594.77" x2="210.44" y2="594.77" stroke="#000" stroke-width="1.15"/>
<line x1="206.04" y1="611.27" x2="210.44" y2="611.27" stroke="#000" stroke-width="1.15"/>
<line x1="238.18" y1="538.83" x2="238.18" y2="554.5" stroke="#000" stroke-width="1.15"/>
<line x1="235.98" y1="554.5" x2="240.38" y2="554.5" stroke="#000" stroke-width="1.15"/>
<line x1="208.24" y1="657.32" x2="208.24" y2="672.85" stroke="#000" stroke-width="1.15"/>
<line x1="206.04" y1="657.32" x2="210.44" y2="657.32" stroke="#000" stroke-width="1.15"/>
<line x1="206.04" y1="672.85" x2="210.44" y2="672.85" stroke="#000" stroke-width="1.15"/>
<line x1="238.18" y1="677.18" x2="238.18" y2="687.08" stroke="#000" stroke-width="1.15"/>
<line x1="235.98" y1="677.18" x2="240.38" y2="677.18" stroke="#000" stroke-width="1.15"/>
<line x1="235.98" y1="687.08" x2="240.38" y2="687.08" stroke="#000" stroke-width="1.15"/>
<line x1="256.14" y1="657.18" x2="256.14" y2="683.09" stroke="#000" stroke-width="1.15"/>
<line x1="253.94" y1="657.18" x2="258.34" y2="657.18" stroke="#000" stroke-width="1.15"/>
<line x1="253.94" y1="683.09" x2="258.34" y2="683.09" stroke="#000" stroke-width="1.15"/>
<line x1="274.1" y1="634.57" x2="274.1" y2="665.77" stroke="#000" stroke-width="1.15"/>
<line x1="271.9" y1="634.57" x2="276.3" y2="634.57" stroke="#000" stroke-width="1.15"/>
<line x1="271.9" y1="665.77" x2="276.3" y2="665.77" stroke="#000" stroke-width="1.15"/>
<line x1="292.06" y1="613.81" x2="292.06" y2="649.62" stroke="#000" stroke-width="1.15"/>
<line x1="289.86" y1="613.81" x2="294.26" y2="613.81" stroke="#000" stroke-width="1.15"/>
<line x1="289.86" y1="649.62" x2="294.26" y2="649.62" stroke="#000" stroke-width="1.15"/>
<line x1="316.01" y1="559.17" x2="316.01" y2="614.98" stroke="#000" stroke-width="1.15"/>
<line x1="313.81" y1="559.17" x2="318.21" y2="559.17" stroke="#000" stroke-width="1.15"/>
<line x1="313.81" y1="614.98" x2="318.21" y2="614.98" stroke="#000" stroke-width="1.15"/>
<line x1="208.24" y1="629.69" x2="208.24" y2="649.48" stroke="#000" stroke-width="1.15"/>
<line x1="206.04" y1="629.69" x2="210.44" y2="629.69" stroke="#000" stroke-width="1.15"/>
<line x1="206.04" y1="649.48" x2="210.44" y2="649.48" stroke="#000" stroke-width="1.15"/>
<line x1="238.18" y1="602.47" x2="238.18" y2="634.98" stroke="#000" stroke-width="1.15"/>
<line x1="235.98" y1="602.47" x2="240.38" y2="602.47" stroke="#000" stroke-width="1.15"/>
<line x1="235.98" y1="634.98" x2="240.38" y2="634.98" stroke="#000" stroke-width="1.15"/>
<line x1="256.14" y1="541.23" x2="256.14" y2="594.98" stroke="#000" stroke-width="1.15"/>
<line x1="253.94" y1="541.23" x2="258.34" y2="541.23" stroke="#000" stroke-width="1.15"/>
<line x1="253.94" y1="594.98" x2="258.34" y2="594.98" stroke="#000" stroke-width="1.15"/>
<line x1="238.18" y1="514.91" x2="238.18" y2="534.15" stroke="#000" stroke-width="1.15"/>
<line x1="235.98" y1="514.91" x2="240.38" y2="514.91" stroke="#000" stroke-width="1.15"/>
<line x1="235.98" y1="534.15" x2="240.38" y2="534.15" stroke="#000" stroke-width="1.15"/>
<circle cx="124.42" cy="697.73" r="3.4" fill="#fff" stroke="#000" stroke-width="1.1"/>
<line x1="120.52" y1="697.73" x2="128.32" y2="697.73" stroke="#000" stroke-width="1"/>
<circle cx="148.37" cy="681.37" r="3.4" fill="#fff" stroke="#000" stroke-width="1.1"/>
<line x1="144.47" y1="681.37" x2="152.27" y2="681.37" stroke="#000" stroke-width="1"/>
<circle cx="166.33" cy="657.32" r="3.4" fill="#fff" stroke="#000" stroke-width="1.1"/>
<line x1="162.43" y1="657.32" x2="170.23" y2="657.32" stroke="#000" stroke-width="1"/>
<circle cx="184.29" cy="637.32" r="3.4" fill="#fff" stroke="#000" stroke-width="1.1"/>
<line x1="180.39" y1="637.32" x2="188.19" y2="637.32" stroke="#000" stroke-width="1"/>
<circle cx="208.24" cy="589.62" r="3.4" fill="#fff" stroke="#000" stroke-width="1.1"/>
<line x1="204.34" y1="589.62" x2="212.14" y2="589.62" stroke="#000" stroke-width="1"/>
<rect x="121.12" y="694.43" width="6.6" height="6.6" fill="#fff" stroke="#000" stroke-width="1.2"/>
<rect x="145.07" y="679.45" width="6.6" height="6.6" fill="#fff" stroke="#000" stroke-width="1.2"/>
<rect x="163.03" y="660.89" width="6.6" height="6.6" fill="#fff" stroke="#000" stroke-width="1.2"/>
<rect x="180.99" y="634.77" width="6.6" height="6.6" fill="#fff" stroke="#000" stroke-width="1.2"/>
<rect x="204.94" y="599.72" width="6.6" height="6.6" fill="#fff" stroke="#000" stroke-width="1.2"/>
<rect x="234.88" y="535.53" width="6.6" height="6.6" fill="#fff" stroke="#000" stroke-width="1.2"/>
<rect x="120.12" y="693.43" width="8.6" height="8.6" fill="#000"/>
<rect x="144.07" y="679.13" width="8.6" height="8.6" fill="#000"/>
<rect x="162.03" y="666.07" width="8.6" height="8.6" fill="#000"/>
<rect x="179.99" y="655.77" width="8.6" height="8.6" fill="#000"/>
<rect x="203.94" y="674.6" width="8.6" height="8.6" fill="#000"/>
<rect x="233.88" y="698.79" width="8.6" height="8.6" fill="#000"/>
<rect x="251.84" y="702.64" width="8.6" height="8.6" fill="#000"/>
<rect x="269.8" y="701.13" width="8.6" height="8.6" fill="#000"/>
<rect x="287.76" y="699.2" width="8.6" height="8.6" fill="#000"/>
<rect x="311.71" y="690.27" width="8.6" height="8.6" fill="#000"/>
<rect x="335.65" y="673.02" width="8.6" height="8.6" fill="#000"/>
<rect x="353.62" y="662.57" width="8.6" height="8.6" fill="#000"/>
<rect x="377.56" y="636.52" width="8.6" height="8.6" fill="#000"/>
<rect x="407.5" y="571.09" width="8.6" height="8.6" fill="#000"/>
<path d="M120.12 695.67L128.72 695.67L124.42 701.86Z" fill="#000"/>
<path d="M144.07 679.99L152.67 679.99L148.37 686.19Z" fill="#000"/>
<path d="M162.03 658L170.63 658L166.33 664.19Z" fill="#000"/>
<path d="M179.99 641.51L188.59 641.51L184.29 647.7Z" fill="#000"/>
<path d="M203.94 668.24L212.54 668.24L208.24 674.43Z" fill="#000"/>
<path d="M233.88 693.05L242.48 693.05L238.18 699.25Z" fill="#000"/>
<path d="M251.84 693.53L260.44 693.53L256.14 699.73Z" fill="#000"/>
<path d="M269.8 678.28L278.4 678.28L274.1 684.47Z" fill="#000"/>
<path d="M287.76 671.33L296.36 671.33L292.06 677.53Z" fill="#000"/>
<path d="M311.71 644.12L320.31 644.12L316.01 650.31Z" fill="#000"/>
<path d="M335.65 606.73L344.25 606.73L339.95 612.92Z" fill="#000"/>
<rect x="120.12" y="693.43" width="8.6" height="8.6" fill="#000"/>
<rect x="144.07" y="680.51" width="8.6" height="8.6" fill="#000"/>
<rect x="162.03" y="665.39" width="8.6" height="8.6" fill="#000"/>
<rect x="179.99" y="656.8" width="8.6" height="8.6" fill="#000"/>
<rect x="203.94" y="660.78" width="8.6" height="8.6" fill="#000"/>
<rect x="233.88" y="678.58" width="8.6" height="8.6" fill="#000"/>
<rect x="251.84" y="666.07" width="8.6" height="8.6" fill="#000"/>
<rect x="269.8" y="646.49" width="8.6" height="8.6" fill="#000"/>
<rect x="287.76" y="628" width="8.6" height="8.6" fill="#000"/>
<rect x="311.71" y="583.8" width="8.6" height="8.6" fill="#000"/>
<path d="M120.12 695.67L128.72 695.67L124.42 701.86Z" fill="#000"/>
<path d="M144.07 679.31L152.67 679.31L148.37 685.5Z" fill="#000"/>
<path d="M162.03 656.63L170.63 656.63L166.33 662.82Z" fill="#000"/>
<path d="M179.99 640.96L188.59 640.96L184.29 647.15Z" fill="#000"/>
<path d="M203.94 637.52L212.54 637.52L208.24 643.71Z" fill="#000"/>
<path d="M233.88 616.76L242.48 616.76L238.18 622.96Z" fill="#000"/>
<path d="M251.84 565.42L260.44 565.42L256.14 571.61Z" fill="#000"/>
<path d="M124.42 693.63L128.52 697.73L124.42 701.83L120.32 697.73Z" fill="#000"/>
<path d="M148.37 675.9L152.47 680L148.37 684.1L144.27 680Z" fill="#000"/>
<path d="M166.33 650.47L170.43 654.57L166.33 658.67L162.23 654.57Z" fill="#000"/>
<path d="M184.29 628.61L188.39 632.71L184.29 636.81L180.19 632.71Z" fill="#000"/>
<path d="M208.24 580.02L212.34 584.12L208.24 588.22L204.14 584.12Z" fill="#000"/>
<path d="M124.42 693.63L128.52 697.73L124.42 701.83L120.32 697.73Z" fill="#000"/>
<path d="M148.37 675.21L152.47 679.31L148.37 683.41L144.27 679.31Z" fill="#000"/>
<path d="M166.33 651.84L170.43 655.94L166.33 660.04L162.23 655.94Z" fill="#000"/>
<path d="M184.29 630.54L188.39 634.64L184.29 638.74L180.19 634.64Z" fill="#000"/>
<path d="M208.24 580.29L212.34 584.39L208.24 588.49L204.14 584.39Z" fill="#000"/>
<path d="M238.18 520.43L242.28 524.53L238.18 528.63L234.08 524.53Z" fill="#000"/>
<path d="M204.54 602.37L211.94 602.37L208.24 607.7Z" fill="#000"/>
<circle cx="208.24" cy="589.82" r="2.2" fill="#000" opacity="0.6"/>
<text x="25.6" y="800.4" font-size="21" font-weight="bold" text-anchor="start" >C</text>
<rect x="35.3" y="815.9" width="453" height="54.8" fill="#fff" stroke="#000" stroke-width="1.5"/>
<line x1="39.2" y1="828" x2="64.6" y2="828" stroke="#000" stroke-width="1.3"/>
<rect x="48.1" y="824.2" width="7.6" height="7.6" fill="#fff" stroke="#000" stroke-width="1.1"/>
<line x1="47.5" y1="828" x2="56.3" y2="828" stroke="#000" stroke-width="1"/>
<text x="66.2" y="832.5" font-size="12.75" font-weight="normal" text-anchor="start" stroke="#000" stroke-width="0.45">ABT-888 (25 mg/kg/day)</text>
<line x1="39.2" y1="844" x2="64.6" y2="844" stroke="#000" stroke-width="1.3" stroke-dasharray="3.2 2.6"/>
<rect x="47.6" y="839.7" width="8.6" height="8.6" fill="#000"/>
<text x="66.2" y="848.5" font-size="12.75" font-weight="normal" text-anchor="start" stroke="#000" stroke-width="0.45">Cyclophos. (12.5 mg/kg/day)</text>
<line x1="39.2" y1="858.9" x2="64.6" y2="858.9" stroke="#000" stroke-width="1.3" stroke-dasharray="3.2 2.6"/>
<path d="M47.6 856.84L56.2 856.84L51.9 863.03Z" fill="#000"/>
<text x="66.2" y="863.4" font-size="12.75" font-weight="normal" text-anchor="start" stroke="#000" stroke-width="0.45">Cyclophos. (5 mg/kg/day)</text>
<line x1="231.2" y1="828" x2="256.5" y2="828" stroke="#000" stroke-width="1.3"/>
<rect x="239.55" y="823.7" width="8.6" height="8.6" fill="#000"/>
<text x="258.2" y="832.5" font-size="12.75" font-weight="normal" text-anchor="start" stroke="#000" stroke-width="0.45">Cyclophos. (12.5 mg/kg/day) + ABT-888</text>
<line x1="231.2" y1="844" x2="256.5" y2="844" stroke="#000" stroke-width="1.3"/>
<path d="M239.55 841.94L248.15 841.94L243.85 848.13Z" fill="#000"/>
<text x="258.2" y="848.5" font-size="12.75" font-weight="normal" text-anchor="start" stroke="#000" stroke-width="0.45">Cyclophos. (5 mg/kg/day) + ABT-888</text>
<line x1="231.2" y1="858.9" x2="256.5" y2="858.9" stroke="#000" stroke-width="1.3"/>
<circle cx="243.85" cy="858.9" r="3.3" fill="#fff" stroke="#000" stroke-width="1.1"/>
<line x1="240.05" y1="858.9" x2="247.65" y2="858.9" stroke="#000" stroke-width="1"/>
<text x="258.2" y="863.4" font-size="12.75" font-weight="normal" text-anchor="start" stroke="#000" stroke-width="0.45">Combination Vehicle Control</text>
<g stroke="#000" stroke-width="1.5">
<line x1="86.2" y1="878.3" x2="86.2" y2="1081.6"/>
<line x1="81.0" y1="1078.5" x2="435.2" y2="1078.5"/>
<line x1="81" y1="1078.5" x2="86.2" y2="1078.5"/>
<line x1="83.2" y1="1071.85" x2="86.2" y2="1071.85"/>
<line x1="83.2" y1="1065.2" x2="86.2" y2="1065.2"/>
<line x1="83.2" y1="1058.55" x2="86.2" y2="1058.55"/>
<line x1="83.2" y1="1051.9" x2="86.2" y2="1051.9"/>
<line x1="81" y1="1045.25" x2="86.2" y2="1045.25"/>
<line x1="83.2" y1="1038.6" x2="86.2" y2="1038.6"/>
<line x1="83.2" y1="1031.95" x2="86.2" y2="1031.95"/>
<line x1="83.2" y1="1025.3" x2="86.2" y2="1025.3"/>
<line x1="83.2" y1="1018.65" x2="86.2" y2="1018.65"/>
<line x1="81" y1="1012" x2="86.2" y2="1012"/>
<line x1="83.2" y1="1005.35" x2="86.2" y2="1005.35"/>
<line x1="83.2" y1="998.7" x2="86.2" y2="998.7"/>
<line x1="83.2" y1="992.05" x2="86.2" y2="992.05"/>
<line x1="83.2" y1="985.4" x2="86.2" y2="985.4"/>
<line x1="81" y1="978.75" x2="86.2" y2="978.75"/>
<line x1="83.2" y1="972.1" x2="86.2" y2="972.1"/>
<line x1="83.2" y1="965.45" x2="86.2" y2="965.45"/>
<line x1="83.2" y1="958.8" x2="86.2" y2="958.8"/>
<line x1="83.2" y1="952.15" x2="86.2" y2="952.15"/>
<line x1="81" y1="945.5" x2="86.2" y2="945.5"/>
<line x1="83.2" y1="938.85" x2="86.2" y2="938.85"/>
<line x1="83.2" y1="932.2" x2="86.2" y2="932.2"/>
<line x1="83.2" y1="925.55" x2="86.2" y2="925.55"/>
<line x1="83.2" y1="918.9" x2="86.2" y2="918.9"/>
<line x1="81" y1="912.25" x2="86.2" y2="912.25"/>
<line x1="83.2" y1="905.6" x2="86.2" y2="905.6"/>
<line x1="83.2" y1="898.95" x2="86.2" y2="898.95"/>
<line x1="83.2" y1="892.3" x2="86.2" y2="892.3"/>
<line x1="83.2" y1="885.65" x2="86.2" y2="885.65"/>
<line x1="81" y1="879" x2="86.2" y2="879"/>
<line x1="86" y1="1078.5" x2="86" y2="1081.8"/>
<line x1="95.96" y1="1078.5" x2="95.96" y2="1081.2"/>
<line x1="105.92" y1="1078.5" x2="105.92" y2="1081.2"/>
<line x1="115.88" y1="1078.5" x2="115.88" y2="1081.2"/>
<line x1="125.84" y1="1078.5" x2="125.84" y2="1081.2"/>
<line x1="135.8" y1="1078.5" x2="135.8" y2="1081.8"/>
<line x1="145.76" y1="1078.5" x2="145.76" y2="1081.2"/>
<line x1="155.72" y1="1078.5" x2="155.72" y2="1081.2"/>
<line x1="165.68" y1="1078.5" x2="165.68" y2="1081.2"/>
<line x1="175.64" y1="1078.5" x2="175.64" y2="1081.2"/>
<line x1="185.6" y1="1078.5" x2="185.6" y2="1081.8"/>
<line x1="195.56" y1="1078.5" x2="195.56" y2="1081.2"/>
<line x1="205.52" y1="1078.5" x2="205.52" y2="1081.2"/>
<line x1="215.48" y1="1078.5" x2="215.48" y2="1081.2"/>
<line x1="225.44" y1="1078.5" x2="225.44" y2="1081.2"/>
<line x1="235.4" y1="1078.5" x2="235.4" y2="1081.8"/>
<line x1="245.36" y1="1078.5" x2="245.36" y2="1081.2"/>
<line x1="255.32" y1="1078.5" x2="255.32" y2="1081.2"/>
<line x1="265.28" y1="1078.5" x2="265.28" y2="1081.2"/>
<line x1="275.24" y1="1078.5" x2="275.24" y2="1081.2"/>
<line x1="285.2" y1="1078.5" x2="285.2" y2="1081.8"/>
<line x1="295.16" y1="1078.5" x2="295.16" y2="1081.2"/>
<line x1="305.12" y1="1078.5" x2="305.12" y2="1081.2"/>
<line x1="315.08" y1="1078.5" x2="315.08" y2="1081.2"/>
<line x1="325.04" y1="1078.5" x2="325.04" y2="1081.2"/>
<line x1="335" y1="1078.5" x2="335" y2="1081.8"/>
<line x1="344.96" y1="1078.5" x2="344.96" y2="1081.2"/>
<line x1="354.92" y1="1078.5" x2="354.92" y2="1081.2"/>
<line x1="364.88" y1="1078.5" x2="364.88" y2="1081.2"/>
<line x1="374.84" y1="1078.5" x2="374.84" y2="1081.2"/>
<line x1="384.8" y1="1078.5" x2="384.8" y2="1081.8"/>
<line x1="394.76" y1="1078.5" x2="394.76" y2="1081.2"/>
<line x1="404.72" y1="1078.5" x2="404.72" y2="1081.2"/>
<line x1="414.68" y1="1078.5" x2="414.68" y2="1081.2"/>
<line x1="424.64" y1="1078.5" x2="424.64" y2="1081.2"/>
<line x1="434.6" y1="1078.5" x2="434.6" y2="1081.8"/>
</g>
<text x="76.7" y="1082.9" font-size="12.3" font-weight="normal" text-anchor="end" stroke="#000" stroke-width="0.45">0</text>
<text x="76.7" y="1049.65" font-size="12.3" font-weight="normal" text-anchor="end" stroke="#000" stroke-width="0.45">500</text>
<text x="76.7" y="1016.4" font-size="12.3" font-weight="normal" text-anchor="end" stroke="#000" stroke-width="0.45">1000</text>
<text x="76.7" y="983.15" font-size="12.3" font-weight="normal" text-anchor="end" stroke="#000" stroke-width="0.45">1500</text>
<text x="76.7" y="949.9" font-size="12.3" font-weight="normal" text-anchor="end" stroke="#000" stroke-width="0.45">2000</text>
<text x="76.7" y="916.65" font-size="12.3" font-weight="normal" text-anchor="end" stroke="#000" stroke-width="0.45">2500</text>
<text x="76.7" y="883.4" font-size="12.3" font-weight="normal" text-anchor="end" stroke="#000" stroke-width="0.45">3000</text>
<text x="86" y="1093.8" font-size="12.3" font-weight="normal" text-anchor="middle" stroke="#000" stroke-width="0.45">10</text>
<text x="135.8" y="1093.8" font-size="12.3" font-weight="normal" text-anchor="middle" stroke="#000" stroke-width="0.45">15</text>
<text x="185.6" y="1093.8" font-size="12.3" font-weight="normal" text-anchor="middle" stroke="#000" stroke-width="0.45">20</text>
<text x="235.4" y="1093.8" font-size="12.3" font-weight="normal" text-anchor="middle" stroke="#000" stroke-width="0.45">25</text>
<text x="285.2" y="1093.8" font-size="12.3" font-weight="normal" text-anchor="middle" stroke="#000" stroke-width="0.45">30</text>
<text x="335" y="1093.8" font-size="12.3" font-weight="normal" text-anchor="middle" stroke="#000" stroke-width="0.45">35</text>
<text x="384.8" y="1093.8" font-size="12.3" font-weight="normal" text-anchor="middle" stroke="#000" stroke-width="0.45">40</text>
<text x="434.6" y="1093.8" font-size="12.3" font-weight="normal" text-anchor="middle" stroke="#000" stroke-width="0.45">45</text>
<text x="274" y="1106.2" font-size="12.7" font-weight="bold" text-anchor="start" >Days</text>
<text transform="translate(39.6 1041.9) rotate(-90)" font-size="13" font-weight="bold" stroke="#000" stroke-width="0.3" >Tumor Volume (mm<tspan font-size="9.1" dy="-4.94">3</tspan><tspan dy="4.94">)</tspan></text>
<line x1="193.3" y1="1096.2" x2="193.3" y2="1106.8" stroke="#222" stroke-width="1.1"/>
<path d="M193.3 1094.2L196.3 1101.2L193.3 1099.8L190.3 1101.2Z" fill="#000"/>
<line x1="214.4" y1="1096.2" x2="214.4" y2="1106.8" stroke="#222" stroke-width="1.1"/>
<path d="M214.4 1094.2L217.4 1101.2L214.4 1099.8L211.4 1101.2Z" fill="#000"/>
<line x1="230.4" y1="1096.2" x2="230.4" y2="1106.8" stroke="#222" stroke-width="1.1"/>
<path d="M230.4 1094.2L233.4 1101.2L230.4 1099.8L227.4 1101.2Z" fill="#000"/>
<text x="174.6" y="1114.6" font-size="10.6" font-weight="normal" text-anchor="start" stroke="#000" stroke-width="0.4">Cyclophosphamide</text>
<text x="197.7" y="1129" font-size="10.6" font-weight="normal" text-anchor="start" stroke="#000" stroke-width="0.4">ABT-888</text>
<line x1="158.2" y1="1130.6" x2="281.4" y2="1130.6" stroke="#000" stroke-width="1.4"/>
<path d="M155.2 1130.6L163.7 1127.6L163.7 1133.6Z" fill="#000"/>
<path d="M284.4 1130.6L275.9 1127.6L275.9 1133.6Z" fill="#000"/>
<path d="M145.76 1064L185.6 1038.6L215.48 1014.66L245.36 995.04L285.2 1004.02L335 1032.48L364.88 1026.03L394.76 982.21" fill="none" stroke="#000" stroke-width="1.4"/>
<path d="M145.76 1064L185.6 1047.24L215.48 1028.62L245.36 1007.74L285.2 972.63" fill="none" stroke="#000" stroke-width="1.4"/>
<path d="M145.76 1064L185.6 1041.26L215.48 1019.98L245.36 1008.01L285.2 972.63L335 909.86" fill="none" stroke="#000" stroke-width="1.4"/>
<path d="M145.76 1064L185.6 1043.92L215.48 1023.3L245.36 1005.35L285.2 958.87" fill="none" stroke="#000" stroke-width="1.4"/>
<path d="M145.76 1064L185.6 1048.58L215.48 1031.29L245.36 1022.77L285.2 1003.69L335 968.24L364.88 928.08" fill="none" stroke="#000" stroke-width="1.4" stroke-dasharray="4 3"/>
<path d="M145.76 1064L185.6 1045.25L215.48 1025.96L245.36 1009.34L285.2 970.77L335 892.9" fill="none" stroke="#000" stroke-width="1.4" stroke-dasharray="4 3"/>
<line x1="185.6" y1="1031.62" x2="185.6" y2="1045.58" stroke="#000" stroke-width="1.3"/>
<line x1="183.1" y1="1031.62" x2="188.1" y2="1031.62" stroke="#000" stroke-width="1.3"/>
<line x1="183.1" y1="1045.58" x2="188.1" y2="1045.58" stroke="#000" stroke-width="1.3"/>
<line x1="215.48" y1="1005.35" x2="215.48" y2="1023.97" stroke="#000" stroke-width="1.3"/>
<line x1="212.98" y1="1005.35" x2="217.98" y2="1005.35" stroke="#000" stroke-width="1.3"/>
<line x1="212.98" y1="1023.97" x2="217.98" y2="1023.97" stroke="#000" stroke-width="1.3"/>
<line x1="245.36" y1="976.42" x2="245.36" y2="1013.66" stroke="#000" stroke-width="1.3"/>
<line x1="242.86" y1="976.42" x2="247.86" y2="976.42" stroke="#000" stroke-width="1.3"/>
<line x1="242.86" y1="1013.66" x2="247.86" y2="1013.66" stroke="#000" stroke-width="1.3"/>
<line x1="285.2" y1="993.05" x2="285.2" y2="1015.33" stroke="#000" stroke-width="1.3"/>
<line x1="282.7" y1="993.05" x2="287.7" y2="993.05" stroke="#000" stroke-width="1.3"/>
<line x1="282.7" y1="1015.33" x2="287.7" y2="1015.33" stroke="#000" stroke-width="1.3"/>
<line x1="335" y1="1021.51" x2="335" y2="1042.12" stroke="#000" stroke-width="1.3"/>
<line x1="332.5" y1="1021.51" x2="337.5" y2="1021.51" stroke="#000" stroke-width="1.3"/>
<line x1="332.5" y1="1042.12" x2="337.5" y2="1042.12" stroke="#000" stroke-width="1.3"/>
<line x1="364.88" y1="1014.06" x2="364.88" y2="1038.27" stroke="#000" stroke-width="1.3"/>
<line x1="362.38" y1="1014.06" x2="367.38" y2="1014.06" stroke="#000" stroke-width="1.3"/>
<line x1="362.38" y1="1038.27" x2="367.38" y2="1038.27" stroke="#000" stroke-width="1.3"/>
<line x1="394.76" y1="963.92" x2="394.76" y2="999.17" stroke="#000" stroke-width="1.3"/>
<line x1="392.26" y1="963.92" x2="397.26" y2="963.92" stroke="#000" stroke-width="1.3"/>
<line x1="392.26" y1="999.17" x2="397.26" y2="999.17" stroke="#000" stroke-width="1.3"/>
<line x1="335" y1="909.86" x2="335" y2="924.09" stroke="#000" stroke-width="1.3"/>
<line x1="332.5" y1="924.09" x2="337.5" y2="924.09" stroke="#000" stroke-width="1.3"/>
<line x1="285.2" y1="947.89" x2="285.2" y2="969.84" stroke="#000" stroke-width="1.3"/>
<line x1="282.7" y1="947.89" x2="287.7" y2="947.89" stroke="#000" stroke-width="1.3"/>
<line x1="282.7" y1="969.84" x2="287.7" y2="969.84" stroke="#000" stroke-width="1.3"/>
<line x1="245.36" y1="1022.77" x2="245.36" y2="1029.02" stroke="#000" stroke-width="1.3"/>
<line x1="242.86" y1="1029.02" x2="247.86" y2="1029.02" stroke="#000" stroke-width="1.3"/>
<line x1="285.2" y1="1003.69" x2="285.2" y2="1014.99" stroke="#000" stroke-width="1.3"/>
<line x1="282.7" y1="1014.99" x2="287.7" y2="1014.99" stroke="#000" stroke-width="1.3"/>
<line x1="335" y1="948.63" x2="335" y2="987.86" stroke="#000" stroke-width="1.3"/>
<line x1="332.5" y1="948.63" x2="337.5" y2="948.63" stroke="#000" stroke-width="1.3"/>
<line x1="332.5" y1="987.86" x2="337.5" y2="987.86" stroke="#000" stroke-width="1.3"/>
<line x1="364.88" y1="904.47" x2="364.88" y2="950.69" stroke="#000" stroke-width="1.3"/>
<line x1="362.38" y1="904.47" x2="367.38" y2="904.47" stroke="#000" stroke-width="1.3"/>
<line x1="362.38" y1="950.69" x2="367.38" y2="950.69" stroke="#000" stroke-width="1.3"/>
<line x1="335" y1="877.94" x2="335" y2="892.9" stroke="#000" stroke-width="1.3"/>
<line x1="332.5" y1="892.9" x2="337.5" y2="892.9" stroke="#000" stroke-width="1.3"/>
<circle cx="145.76" cy="1064" r="3.4" fill="#fff" stroke="#000" stroke-width="1.1"/>
<line x1="141.86" y1="1064" x2="149.66" y2="1064" stroke="#000" stroke-width="1"/>
<circle cx="185.6" cy="1043.92" r="3.4" fill="#fff" stroke="#000" stroke-width="1.1"/>
<line x1="181.7" y1="1043.92" x2="189.5" y2="1043.92" stroke="#000" stroke-width="1"/>
<circle cx="215.48" cy="1023.3" r="3.4" fill="#fff" stroke="#000" stroke-width="1.1"/>
<line x1="211.58" y1="1023.3" x2="219.38" y2="1023.3" stroke="#000" stroke-width="1"/>
<circle cx="245.36" cy="1005.35" r="3.4" fill="#fff" stroke="#000" stroke-width="1.1"/>
<line x1="241.46" y1="1005.35" x2="249.26" y2="1005.35" stroke="#000" stroke-width="1"/>
<circle cx="285.2" cy="958.87" r="3.4" fill="#fff" stroke="#000" stroke-width="1.1"/>
<line x1="281.3" y1="958.87" x2="289.1" y2="958.87" stroke="#000" stroke-width="1"/>
<rect x="142.46" y="1060.7" width="6.6" height="6.6" fill="#fff" stroke="#000" stroke-width="1.1"/>
<line x1="141.86" y1="1064" x2="149.66" y2="1064" stroke="#000" stroke-width="1"/>
<rect x="182.3" y="1037.96" width="6.6" height="6.6" fill="#fff" stroke="#000" stroke-width="1.1"/>
<line x1="181.7" y1="1041.26" x2="189.5" y2="1041.26" stroke="#000" stroke-width="1"/>
<rect x="212.18" y="1016.68" width="6.6" height="6.6" fill="#fff" stroke="#000" stroke-width="1.1"/>
<line x1="211.58" y1="1019.98" x2="219.38" y2="1019.98" stroke="#000" stroke-width="1"/>
<rect x="242.06" y="1004.71" width="6.6" height="6.6" fill="#fff" stroke="#000" stroke-width="1.1"/>
<line x1="241.46" y1="1008.01" x2="249.26" y2="1008.01" stroke="#000" stroke-width="1"/>
<rect x="281.9" y="969.33" width="6.6" height="6.6" fill="#fff" stroke="#000" stroke-width="1.1"/>
<line x1="281.3" y1="972.63" x2="289.1" y2="972.63" stroke="#000" stroke-width="1"/>
<rect x="331.7" y="906.56" width="6.6" height="6.6" fill="#fff" stroke="#000" stroke-width="1.1"/>
<line x1="331.1" y1="909.86" x2="338.9" y2="909.86" stroke="#000" stroke-width="1"/>
<path d="M141.36 1061.89L150.16 1061.89L145.76 1068.23Z" fill="#000"/>
<path d="M181.2 1045.13L190 1045.13L185.6 1051.47Z" fill="#000"/>
<path d="M211.08 1026.51L219.88 1026.51L215.48 1032.85Z" fill="#000"/>
<path d="M240.96 1005.63L249.76 1005.63L245.36 1011.97Z" fill="#000"/>
<path d="M280.8 970.52L289.6 970.52L285.2 976.86Z" fill="#000"/>
<path d="M141.36 1061.89L150.16 1061.89L145.76 1068.23Z" fill="#000"/>
<path d="M181.2 1043.14L190 1043.14L185.6 1049.47Z" fill="#000"/>
<path d="M211.08 1023.85L219.88 1023.85L215.48 1030.19Z" fill="#000"/>
<path d="M240.96 1007.23L249.76 1007.23L245.36 1013.56Z" fill="#000"/>
<path d="M280.8 968.66L289.6 968.66L285.2 974.99Z" fill="#000"/>
<path d="M330.6 890.79L339.4 890.79L335 897.12Z" fill="#000"/>
<rect x="141.16" y="1059.4" width="9.2" height="9.2" fill="#000"/>
<rect x="181" y="1043.98" width="9.2" height="9.2" fill="#000"/>
<rect x="210.88" y="1026.69" width="9.2" height="9.2" fill="#000"/>
<rect x="240.76" y="1018.17" width="9.2" height="9.2" fill="#000"/>
<rect x="280.6" y="999.09" width="9.2" height="9.2" fill="#000"/>
<rect x="330.4" y="963.64" width="9.2" height="9.2" fill="#000"/>
<rect x="360.28" y="923.48" width="9.2" height="9.2" fill="#000"/>
<rect x="141.06" y="1059.3" width="9.4" height="9.4" fill="#000"/>
<rect x="180.9" y="1033.9" width="9.4" height="9.4" fill="#000"/>
<rect x="210.78" y="1009.96" width="9.4" height="9.4" fill="#000"/>
<rect x="240.66" y="990.34" width="9.4" height="9.4" fill="#000"/>
<rect x="280.5" y="999.32" width="9.4" height="9.4" fill="#000"/>
<rect x="330.3" y="1027.78" width="9.4" height="9.4" fill="#000"/>
<rect x="360.18" y="1021.33" width="9.4" height="9.4" fill="#000"/>
<rect x="390.06" y="977.51" width="9.4" height="9.4" fill="#000"/>
</svg></body></html>
